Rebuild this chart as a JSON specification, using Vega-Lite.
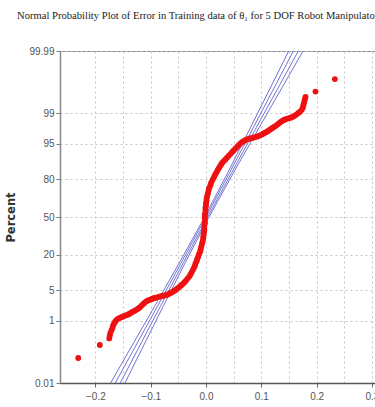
{
  "$schema": "https://vega.github.io/schema/vega-lite/v6.json",
  "width": 315,
  "height": 332,
  "autosize": {"type": "none"},
  "padding": {"left": 60, "top": 51, "right": 0, "bottom": 24},
  "background": "white",
  "config": {"view": {"stroke": "#8a8a8a", "strokeWidth": 1}, "font": "Liberation Sans"},
  "title": {"text": "Normal Probability Plot of Error in Training data of θ₁ for 5 DOF Robot Manipulator", "font": "Liberation Serif", "fontSize": 10.6, "fontWeight": "normal", "color": "#222", "anchor": "start", "frame": "group", "dx": -43, "offset": 24},
  "datasets": {
    "band": [
      {"line": "o1", "z": -3.719, "error": -0.1725}, {"line": "o1", "z": -3, "error": -0.1392}, {"line": "o1", "z": -2, "error": -0.0929}, {"line": "o1", "z": -1, "error": -0.047}, {"line": "o1", "z": 0, "error": -0.0025}, {"line": "o1", "z": 1, "error": 0.0396}, {"line": "o1", "z": 2, "error": 0.0803}, {"line": "o1", "z": 3, "error": 0.1207}, {"line": "o1", "z": 3.719, "error": 0.1495},
      {"line": "i1", "z": -3.719, "error": -0.164}, {"line": "i1", "z": -3, "error": -0.1321}, {"line": "i1", "z": -2, "error": -0.0878}, {"line": "i1", "z": -1, "error": -0.0437}, {"line": "i1", "z": 0, "error": 0.0}, {"line": "i1", "z": 1, "error": 0.0429}, {"line": "i1", "z": 2, "error": 0.0854}, {"line": "i1", "z": 3, "error": 0.1277}, {"line": "i1", "z": 3.719, "error": 0.158},
      {"line": "i2", "z": -3.719, "error": -0.155}, {"line": "i2", "z": -3, "error": -0.1247}, {"line": "i2", "z": -2, "error": -0.0824}, {"line": "i2", "z": -1, "error": -0.0399}, {"line": "i2", "z": 0, "error": 0.003}, {"line": "i2", "z": 1, "error": 0.0467}, {"line": "i2", "z": 2, "error": 0.0908}, {"line": "i2", "z": 3, "error": 0.1351}, {"line": "i2", "z": 3.719, "error": 0.167},
      {"line": "o2", "z": -3.719, "error": -0.1465}, {"line": "o2", "z": -3, "error": -0.1177}, {"line": "o2", "z": -2, "error": -0.0773}, {"line": "o2", "z": -1, "error": -0.0366}, {"line": "o2", "z": 0, "error": 0.0055}, {"line": "o2", "z": 1, "error": 0.05}, {"line": "o2", "z": 2, "error": 0.0959}, {"line": "o2", "z": 3, "error": 0.1422}, {"line": "o2", "z": 3.719, "error": 0.1755}
    ],
    "pts": [
      {"error": -0.231, "z": -3.159}, {"error": -0.192, "z": -2.868}, {"error": -0.175, "z": -2.72}, {"error": -0.174, "z": -2.66}, {"error": -0.173, "z": -2.6}, {"error": -0.171, "z": -2.54}, {"error": -0.169, "z": -2.48}, {"error": -0.168, "z": -2.43}, {"error": -0.166, "z": -2.38}, {"error": -0.164, "z": -2.34}, {"error": -0.162, "z": -2.31}, {"error": -0.159, "z": -2.28}, {"error": -0.156, "z": -2.26}, {"error": -0.153, "z": -2.245}, {"error": -0.15, "z": -2.23}, {"error": -0.147, "z": -2.215}, {"error": -0.144, "z": -2.2}, {"error": -0.141, "z": -2.185}, {"error": -0.138, "z": -2.165}, {"error": -0.135, "z": -2.14}, {"error": -0.132, "z": -2.12}, {"error": -0.129, "z": -2.1}, {"error": -0.126, "z": -2.08}, {"error": -0.123, "z": -2.055}, {"error": -0.12, "z": -2.025}, {"error": -0.117, "z": -1.99}, {"error": -0.114, "z": -1.955}, {"error": -0.111, "z": -1.92}, {"error": -0.108, "z": -1.89}, {"error": -0.105, "z": -1.87}, {"error": -0.102, "z": -1.855}, {"error": -0.099, "z": -1.84}, {"error": -0.096, "z": -1.825}, {"error": -0.093, "z": -1.815}, {"error": -0.09, "z": -1.805}, {"error": -0.087, "z": -1.795}, {"error": -0.084, "z": -1.785}, {"error": -0.081, "z": -1.775}, {"error": -0.078, "z": -1.765}, {"error": -0.075, "z": -1.757}, {"error": -0.072, "z": -1.75}, {"error": -0.069, "z": -1.735}, {"error": -0.066, "z": -1.715}, {"error": -0.063, "z": -1.695}, {"error": -0.06, "z": -1.675}, {"error": -0.057, "z": -1.65}, {"error": -0.054, "z": -1.625}, {"error": -0.051, "z": -1.595}, {"error": -0.048, "z": -1.565}, {"error": -0.045, "z": -1.535}, {"error": -0.042, "z": -1.5}, {"error": -0.039, "z": -1.46}, {"error": -0.036, "z": -1.42}, {"error": -0.033, "z": -1.375}, {"error": -0.03, "z": -1.33}, {"error": -0.028, "z": -1.285}, {"error": -0.026, "z": -1.24}, {"error": -0.024, "z": -1.19}, {"error": -0.022, "z": -1.14}, {"error": -0.02, "z": -1.09}, {"error": -0.019, "z": -1.04}, {"error": -0.017, "z": -0.99}, {"error": -0.016, "z": -0.94}, {"error": -0.014, "z": -0.89}, {"error": -0.013, "z": -0.84}, {"error": -0.011, "z": -0.79}, {"error": -0.01, "z": -0.74}, {"error": -0.009, "z": -0.69}, {"error": -0.008, "z": -0.64}, {"error": -0.007, "z": -0.59}, {"error": -0.006, "z": -0.54}, {"error": -0.005, "z": -0.49}, {"error": -0.005, "z": -0.44}, {"error": -0.004, "z": -0.39}, {"error": -0.004, "z": -0.34}, {"error": -0.003, "z": -0.29}, {"error": -0.003, "z": -0.24}, {"error": -0.003, "z": -0.19}, {"error": -0.002, "z": -0.14}, {"error": -0.002, "z": -0.09}, {"error": -0.002, "z": -0.04}, {"error": -0.002, "z": 0.01}, {"error": -0.002, "z": 0.06}, {"error": -0.001, "z": 0.11}, {"error": -0.001, "z": 0.16}, {"error": -0.001, "z": 0.21}, {"error": 0.0, "z": 0.26}, {"error": 0.0, "z": 0.31}, {"error": 0.001, "z": 0.36}, {"error": 0.001, "z": 0.41}, {"error": 0.002, "z": 0.46}, {"error": 0.003, "z": 0.51}, {"error": 0.004, "z": 0.56}, {"error": 0.005, "z": 0.61}, {"error": 0.006, "z": 0.66}, {"error": 0.008, "z": 0.71}, {"error": 0.009, "z": 0.76}, {"error": 0.011, "z": 0.81}, {"error": 0.013, "z": 0.86}, {"error": 0.015, "z": 0.91}, {"error": 0.017, "z": 0.96}, {"error": 0.019, "z": 1.0}, {"error": 0.021, "z": 1.05}, {"error": 0.023, "z": 1.09}, {"error": 0.025, "z": 1.13}, {"error": 0.027, "z": 1.17}, {"error": 0.029, "z": 1.21}, {"error": 0.032, "z": 1.25}, {"error": 0.035, "z": 1.29}, {"error": 0.038, "z": 1.33}, {"error": 0.041, "z": 1.37}, {"error": 0.044, "z": 1.41}, {"error": 0.047, "z": 1.45}, {"error": 0.05, "z": 1.49}, {"error": 0.053, "z": 1.53}, {"error": 0.056, "z": 1.57}, {"error": 0.059, "z": 1.61}, {"error": 0.062, "z": 1.645}, {"error": 0.065, "z": 1.675}, {"error": 0.068, "z": 1.7}, {"error": 0.071, "z": 1.72}, {"error": 0.074, "z": 1.74}, {"error": 0.077, "z": 1.75}, {"error": 0.08, "z": 1.76}, {"error": 0.083, "z": 1.77}, {"error": 0.086, "z": 1.78}, {"error": 0.089, "z": 1.79}, {"error": 0.092, "z": 1.8}, {"error": 0.095, "z": 1.815}, {"error": 0.098, "z": 1.83}, {"error": 0.101, "z": 1.85}, {"error": 0.104, "z": 1.87}, {"error": 0.107, "z": 1.89}, {"error": 0.11, "z": 1.91}, {"error": 0.113, "z": 1.935}, {"error": 0.116, "z": 1.96}, {"error": 0.119, "z": 1.985}, {"error": 0.122, "z": 2.01}, {"error": 0.125, "z": 2.035}, {"error": 0.128, "z": 2.06}, {"error": 0.131, "z": 2.09}, {"error": 0.134, "z": 2.12}, {"error": 0.137, "z": 2.145}, {"error": 0.14, "z": 2.17}, {"error": 0.143, "z": 2.185}, {"error": 0.146, "z": 2.2}, {"error": 0.149, "z": 2.21}, {"error": 0.152, "z": 2.22}, {"error": 0.155, "z": 2.235}, {"error": 0.158, "z": 2.25}, {"error": 0.161, "z": 2.275}, {"error": 0.164, "z": 2.3}, {"error": 0.167, "z": 2.33}, {"error": 0.17, "z": 2.36}, {"error": 0.173, "z": 2.4}, {"error": 0.175, "z": 2.45}, {"error": 0.176, "z": 2.5}, {"error": 0.177, "z": 2.55}, {"error": 0.178, "z": 2.6}, {"error": 0.179, "z": 2.65}, {"error": 0.18, "z": 2.69}, {"error": 0.198, "z": 2.81}, {"error": 0.233, "z": 3.09}
    ]
  },
  "encoding": {
    "x": {"field": "error", "type": "quantitative",
      "scale": {"domain": [-0.264, 0.3056], "nice": false, "zero": false},
      "axis": {"title": null, "values": [-0.2, -0.15, -0.1, -0.05, 0, 0.05, 0.1, 0.15, 0.2, 0.25, 0.3],
        "labelExpr": "abs(datum.value*10 - round(datum.value*10)) < 0.01 ? format(datum.value, '.1f') : ''",
        "tickOpacity": {"condition": {"test": "abs(datum.value*10 - round(datum.value*10)) < 0.01", "value": 1}, "value": 0},
        "grid": true, "gridDash": [2, 3], "gridColor": "#c4c4c4", "gridWidth": 1,
        "domainColor": "#555", "domainWidth": 1.5, "tickColor": "#666", "tickSize": 4,
        "labelFont": "Liberation Sans", "labelFontSize": 10, "labelColor": "#555", "labelPadding": 4,
        "labelFlush": false, "labelBound": false, "labelOverlap": false}},
    "y": {"field": "z", "type": "quantitative",
      "scale": {"domain": [-3.719, 3.719], "nice": false, "zero": false},
      "axis": {"title": "Percent", "values": [-3.719, -2.326, -1.645, -0.8416, 0, 0.8416, 1.645, 2.326, 3.719],
        "labelExpr": "datum.value < -3 ? '0.01' : datum.value < -2 ? '1' : datum.value < -1.5 ? '5' : datum.value < -0.5 ? '20' : datum.value < 0.5 ? '50' : datum.value < 1 ? '80' : datum.value < 2 ? '95' : datum.value < 3 ? '99' : '99.99'",
        "grid": true, "gridDash": [2, 3], "gridColor": "#c4c4c4", "gridWidth": 1,
        "domainColor": "#888", "domainWidth": 1.5, "tickColor": "#777", "tickSize": 4,
        "labelFont": "Liberation Sans", "labelFontSize": 10, "labelColor": "#555", "labelPadding": 2,
        "labelFlush": false, "labelBound": false, "labelOverlap": false,
        "titleFont": "DejaVu Sans", "titleFontWeight": "bold", "titleFontSize": 11.5, "titleColor": "#333", "titleX": -44}}
  },
  "layer": [
    {"data": {"name": "band"}, "mark": {"type": "line", "strokeWidth": 1, "color": "#7272d2"},
      "encoding": {"detail": {"field": "line"}, "order": {"field": "z", "type": "quantitative"}}},
    {"data": {"name": "pts"}, "mark": {"type": "circle", "size": 34, "color": "#ee1111", "opacity": 1}}
  ]
}
